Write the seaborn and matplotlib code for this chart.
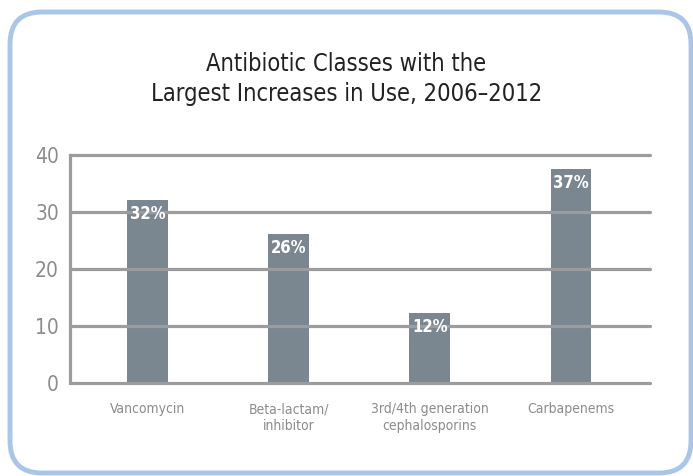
import pandas as pd
import matplotlib.pyplot as plt
import seaborn as sns
from matplotlib.patches import FancyBboxPatch

# -----------------------------
# Data
# -----------------------------
classes = [
    "Vancomycin",
    "Beta-lactam/\ninhibitor",
    "3rd/4th generation\ncephalosporins",
    "Carbapenems",
]
increase = [32.1, 26.1, 12.3, 37.5]
labels = ["32%", "26%", "12%", "37%"]
yticks = [0, 10, 20, 30, 40]

df = pd.DataFrame({"Class": classes, "Increase": increase})

# -----------------------------
# Style
# -----------------------------
sns.set_theme(style="white")
plt.rcParams["font.family"] = ["DejaVu Sans"]
plt.rcParams["font.stretch"] = "condensed"

bar_color = "#7a8791"
grid_color = "#9c9c9e"
text_gray = "#8c8c8c"

fig = plt.figure(figsize=(6.93, 4.76), dpi=100)
ax = fig.add_axes([70 / 693, 1 - 383 / 476, 580 / 693, 228 / 476])

sns.barplot(
    data=df,
    x="Class",
    y="Increase",
    color=bar_color,
    width=0.29,
    saturation=1,
    linewidth=0,
    ax=ax,
    zorder=2,
)

# gridlines drawn over bars
for t in yticks:
    ax.axhline(t, color=grid_color, lw=2.3, zorder=3, clip_on=False)

ax.set_ylim(0, 40)
ax.set_xlim(-0.55, 3.56)
ax.set_yticks(yticks)
ax.set_yticklabels([str(t) for t in yticks], fontsize=15, color=text_gray,
                   fontweight="light")
ax.tick_params(axis="y", length=0, pad=8)
ax.tick_params(axis="x", length=0, pad=14, labelsize=10, labelcolor=text_gray)
ax.set_xlabel("")
ax.set_ylabel("")

for side in ["top", "right", "bottom"]:
    ax.spines[side].set_visible(False)
ax.spines["left"].set_color(grid_color)
ax.spines["left"].set_linewidth(2.3)

# value labels inside bar tops
for i, (v, lab) in enumerate(zip(increase, labels)):
    ax.text(i, v - 0.9, lab, ha="center", va="top", color="white",
            fontsize=12, fontweight="bold", zorder=4)

# title
fig.text(0.5, 1 - 79 / 476, "Antibiotic Classes with the\nLargest Increases in Use, 2006\u20132012",
         ha="center", va="center", fontsize=17, color="#222222",
         linespacing=1.3)

# rounded frame (inches, so the corners stay round)
frame = FancyBboxPatch(
    (0.10, 0.03), 6.81, 4.61,
    boxstyle="round,pad=0,rounding_size=0.32",
    transform=fig.dpi_scale_trans, fill=False,
    edgecolor="#a9c5e8", linewidth=3.5, zorder=0,
)
fig.patches.append(frame)

plt.savefig("out.png", dpi=100)
